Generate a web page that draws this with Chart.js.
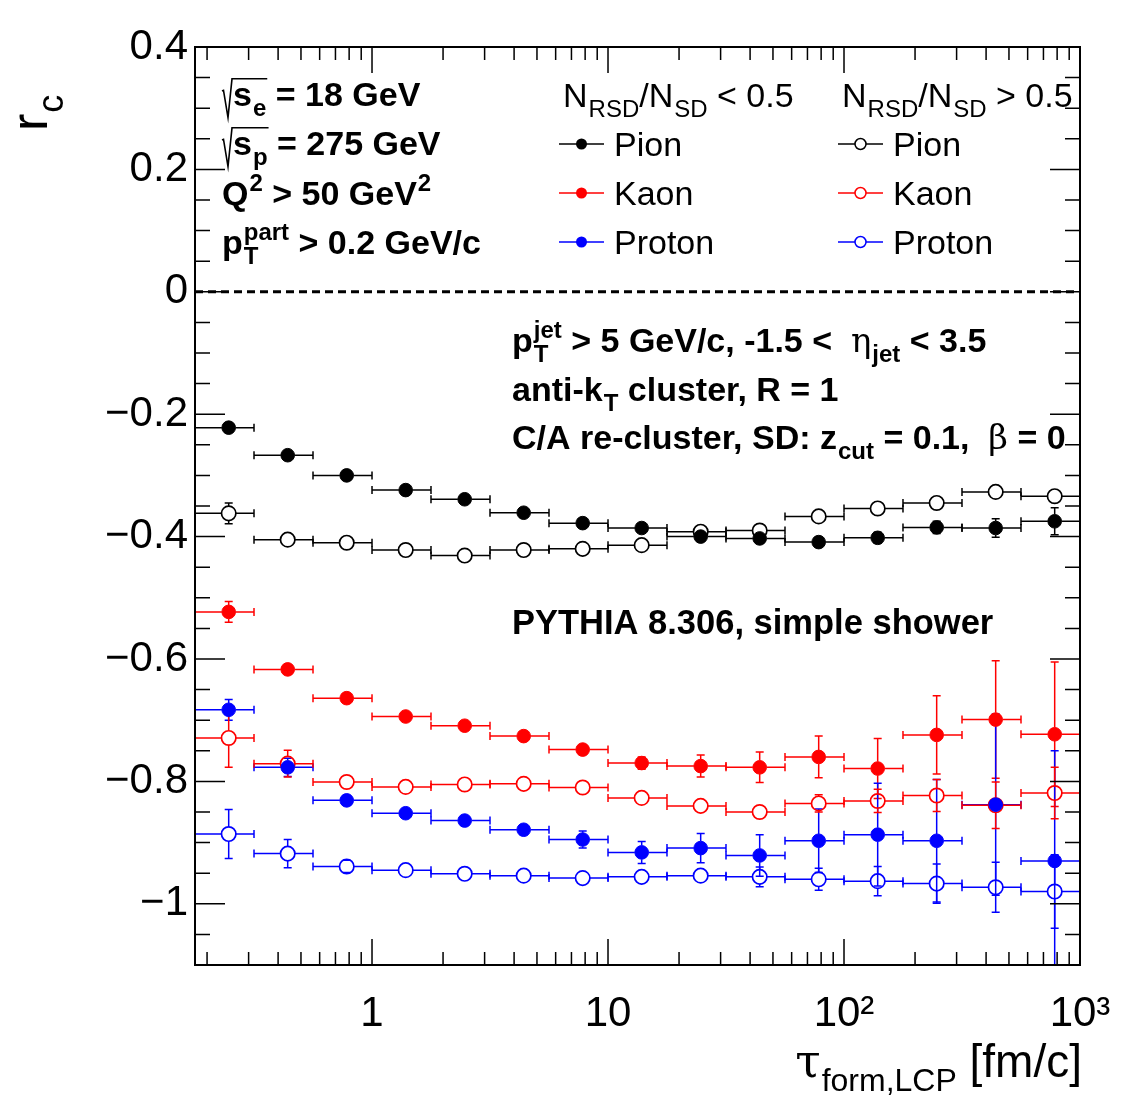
<!DOCTYPE html>
<html>
<head>
<meta charset="utf-8">
<script src="https://cdn.jsdelivr.net/npm/chart.js@4.4.1/dist/chart.umd.min.js"></script>
<style>
  html, body { margin: 0; padding: 0; background: #ffffff; }
  canvas { display: block; }
</style>
</head>
<body>
<canvas id="c" width="1127" height="1119"></canvas>
<script>
// Formation-time bins (fm/c), quarter-decade logarithmic binning
const binEdges = [0.1778, 0.3162, 0.5623, 1, 1.778, 3.162, 5.623, 10, 17.78, 31.62, 56.23, 100, 177.8, 316.2, 562.3, 1000];

// r_c for N_RSD/N_SD < 0.5 (filled markers)
const pionLow       = [-0.222, -0.267, -0.300, -0.324, -0.339, -0.361, -0.378, -0.386, -0.400, -0.403, -0.409, -0.402, -0.385, -0.386, -0.375];
const pionLowErr    = [0.004, 0.004, 0.004, 0.004, 0.004, 0.005, 0.005, 0.006, 0.006, 0.007, 0.008, 0.009, 0.010, 0.015, 0.022];
const kaonLow       = [-0.523, -0.617, -0.664, -0.694, -0.709, -0.726, -0.748, -0.770, -0.775, -0.777, -0.760, -0.779, -0.724, -0.699, -0.723];
const kaonLowErr    = [0.017, 0.007, 0.006, 0.006, 0.006, 0.007, 0.008, 0.010, 0.018, 0.025, 0.034, 0.049, 0.064, 0.096, 0.118];
const protonLow     = [-0.683, -0.777, -0.831, -0.852, -0.864, -0.879, -0.895, -0.916, -0.909, -0.921, -0.897, -0.887, -0.897, -0.838, -0.930];
const protonLowErr  = [0.017, 0.015, 0.008, 0.006, 0.006, 0.008, 0.014, 0.018, 0.024, 0.034, 0.052, 0.084, 0.100, 0.148, 0.180];

// r_c for N_RSD/N_SD > 0.5 (open markers)
const pionHigh      = [-0.362, -0.405, -0.410, -0.422, -0.431, -0.422, -0.420, -0.414, -0.392, -0.390, -0.367, -0.354, -0.345, -0.327, -0.334];
const pionHighErr   = [0.017, 0.005, 0.004, 0.004, 0.004, 0.004, 0.004, 0.004, 0.004, 0.004, 0.005, 0.005, 0.005, 0.006, 0.007];
const kaonHigh      = [-0.729, -0.771, -0.801, -0.809, -0.805, -0.804, -0.810, -0.827, -0.840, -0.850, -0.836, -0.832, -0.823, -0.839, -0.819];
const kaonHighErr   = [0.048, 0.022, 0.008, 0.005, 0.005, 0.005, 0.005, 0.005, 0.006, 0.008, 0.014, 0.019, 0.026, 0.038, 0.042];
const protonHigh    = [-0.886, -0.918, -0.939, -0.945, -0.951, -0.954, -0.958, -0.956, -0.954, -0.956, -0.960, -0.963, -0.967, -0.973, -0.980];
const protonHighErr = [0.040, 0.023, 0.010, 0.006, 0.005, 0.005, 0.005, 0.005, 0.007, 0.016, 0.018, 0.024, 0.032, 0.041, 0.060];

// Axis ticks
const xTickValues = [1, 10, 100, 1000];
const xTickLabels = ['1', '10', '10²', '10³'];
const yTickValues = [-1, -0.8, -0.6, -0.4, -0.2, 0, 0.2, 0.4];

const speciesNames = ['Pion', 'Kaon', 'Proton'];
const speciesColors = ['#000000', '#ff0000', '#0000ff'];

const FAMILY = "'Liberation Sans', Arial, Helvetica, sans-serif";
const SERIF = "'DejaVu Serif', 'Liberation Serif', serif";

const centers = binEdges.slice(0, -1).map((lo, i) => (lo + binEdges[i + 1]) / 2);

const series = [
  { label: 'Pion',   color: speciesColors[0], vals: pionLow,    errs: pionLowErr,    filled: true },
  { label: 'Kaon',   color: speciesColors[1], vals: kaonLow,    errs: kaonLowErr,    filled: true },
  { label: 'Proton', color: speciesColors[2], vals: protonLow,  errs: protonLowErr,  filled: true },
  { label: 'Pion',   color: speciesColors[0], vals: pionHigh,   errs: pionHighErr,   filled: false },
  { label: 'Kaon',   color: speciesColors[1], vals: kaonHigh,   errs: kaonHighErr,   filled: false },
  { label: 'Proton', color: speciesColors[2], vals: protonHigh, errs: protonHighErr, filled: false }
];

const R_FILLED = 6.8, R_OPEN = 7.2;

const datasets = series.map(s => ({
  label: s.label,
  data: centers.map((x, i) => ({ x: x, y: s.vals[i] })),
  errs: s.errs,
  filled: s.filled,
  color: s.color,
  showLine: false,
  pointStyle: 'circle',
  pointRadius: s.filled ? R_FILLED : R_OPEN,
  pointBackgroundColor: s.filled ? s.color : 'rgba(0,0,0,0)',
  pointBorderColor: s.color,
  pointBorderWidth: s.filled ? 1 : 1.7
}));

// ---- text helpers (sub/superscripts, radical) ----
function richText(ctx, x, y, parts, size, weight) {
  let cx = x;
  const ss = Math.round(size * 0.7);
  for (const p of parts) {
    const q = typeof p === 'string' ? { t: p } : p;
    if (q.dx) cx += q.dx;
    if (q.t !== undefined) {
      ctx.font = `${q.w || weight} ${size}px ${q.fam || FAMILY}`;
      ctx.fillText(q.t, cx, y);
      cx += ctx.measureText(q.t).width;
    }
    let w = 0;
    if (q.sub) {
      ctx.font = `${weight} ${ss}px ${FAMILY}`;
      ctx.fillText(q.sub, cx + 1, y + size * 0.3);
      w = Math.max(w, ctx.measureText(q.sub).width + 1);
    }
    if (q.sup) {
      ctx.font = `${weight} ${ss}px ${FAMILY}`;
      ctx.fillText(q.sup, cx + 1, y - size * 0.42);
      w = Math.max(w, ctx.measureText(q.sup).width + 1);
    }
    cx += w;
  }
  return cx;
}

function measureRich(ctx, parts, size, weight) {
  ctx.save();
  ctx.globalAlpha = 0;
  const end = richText(ctx, 0, -1000, parts, size, weight);
  ctx.restore();
  return end;
}

function sqrtText(ctx, x, y, parts, size, weight) {
  const top = y - size * 0.8;
  const endX = richText(ctx, x + 11, y, parts, size, weight);
  ctx.save();
  ctx.lineWidth = 1.6;
  ctx.strokeStyle = '#000';
  ctx.beginPath();
  ctx.moveTo(x, y - size * 0.44);
  ctx.lineTo(x + 1.5, y - size * 0.46);
  ctx.lineTo(x + 6, y + size * 0.34);
  ctx.lineTo(x + 10, top);
  ctx.lineTo(endX + 1, top);
  ctx.stroke();
  ctx.restore();
  return endX;
}

// ---- frame, ticks, error bars, annotations ----
const rootStyle = {
  id: 'rootStyle',
  beforeDatasetsDraw(chart) {
    const { ctx, chartArea: a, scales: { x, y } } = chart;
    ctx.save();
    ctx.beginPath();
    ctx.rect(a.left, a.top, a.right - a.left, a.bottom - a.top);
    ctx.clip();

    // r_c = 0 reference line
    const y0 = y.getPixelForValue(0);
    ctx.setLineDash([8, 5]);
    ctx.lineWidth = 3;
    ctx.strokeStyle = '#000';
    ctx.beginPath();
    ctx.moveTo(a.left, y0);
    ctx.lineTo(a.right, y0);
    ctx.stroke();
    ctx.setLineDash([]);

    // error bars: bin width horizontally, statistical error vertically
    chart.data.datasets.forEach(ds => {
      const r = ds.filled ? R_FILLED : R_OPEN;
      ctx.strokeStyle = ds.color;
      ctx.lineWidth = 1.5;
      ds.data.forEach((pt, i) => {
        const px = x.getPixelForValue(pt.x);
        const py = y.getPixelForValue(pt.y);
        const xl = x.getPixelForValue(binEdges[i]);
        const xr = x.getPixelForValue(binEdges[i + 1]);
        const yt = y.getPixelForValue(pt.y + ds.errs[i]);
        const yb = y.getPixelForValue(pt.y - ds.errs[i]);
        ctx.beginPath();
        ctx.moveTo(xl, py); ctx.lineTo(px - r, py);
        ctx.moveTo(px + r, py); ctx.lineTo(xr, py);
        ctx.moveTo(xl, py - 4); ctx.lineTo(xl, py + 4);
        ctx.moveTo(xr, py - 4); ctx.lineTo(xr, py + 4);
        if (py - yt > r) {
          ctx.moveTo(px, yt); ctx.lineTo(px, py - r);
          ctx.moveTo(px, py + r); ctx.lineTo(px, yb);
        }
        if (py - yt > r - 2) {
          ctx.moveTo(px - 4, yt); ctx.lineTo(px + 4, yt);
          ctx.moveTo(px - 4, yb); ctx.lineTo(px + 4, yb);
        }
        ctx.stroke();
      });
    });
    ctx.restore();
  },
  afterDraw(chart) {
    const { ctx, chartArea: a, scales: { x, y } } = chart;
    ctx.save();
    ctx.strokeStyle = '#000';

    // ticks on all four sides, pointing inwards
    ctx.lineWidth = 1.5;
    ctx.beginPath();
    for (let k = -22; k <= 8; k++) {
      const v = k * 0.05;
      const py = y.getPixelForValue(v);
      const len = (k % 4 === 0) ? 30 : 15;
      ctx.moveTo(a.left, py); ctx.lineTo(a.left + len, py);
      ctx.moveTo(a.right, py); ctx.lineTo(a.right - len, py);
    }
    for (let d = -1; d <= 3; d++) {
      for (let m = 1; m <= 9; m++) {
        const v = m * Math.pow(10, d);
        if (v < x.min * 0.999 || v > x.max * 1.001) continue;
        const px = x.getPixelForValue(v);
        const len = (m === 1) ? 26 : 13;
        ctx.moveTo(px, a.bottom); ctx.lineTo(px, a.bottom - len);
        ctx.moveTo(px, a.top); ctx.lineTo(px, a.top + len);
      }
    }
    ctx.stroke();

    // frame
    ctx.lineWidth = 2;
    ctx.strokeRect(a.left, a.top, a.right - a.left, a.bottom - a.top);

    ctx.fillStyle = '#000';
    ctx.textBaseline = 'alphabetic';
    ctx.textAlign = 'left';

    // beam and kinematic selection
    const B = 34;
    let e = sqrtText(ctx, 222, 106, [{ t: 's', sub: 'e' }], B, 'bold');
    richText(ctx, e, 106, [' = 18 GeV'], B, 'bold');
    e = sqrtText(ctx, 222, 155, [{ t: 's', sub: 'p' }], B, 'bold');
    richText(ctx, e, 155, [' = 275 GeV'], B, 'bold');
    richText(ctx, 222, 205, [{ t: 'Q', sup: '2' }, ' > 50 GeV', { sup: '2' }], B, 'bold');
    richText(ctx, 222, 254, [{ t: 'p', sub: 'T', sup: 'part' }, ' > 0.2 GeV/c'], B, 'bold');

    // jet definition
    richText(ctx, 512, 352, [{ t: 'p', sub: 'T', sup: 'jet' }, ' > 5 GeV/c, -1.5 <  ', { t: 'η', fam: SERIF, w: 'normal', sub: 'jet' }, ' < 3.5'], B, 'bold');
    richText(ctx, 512, 401, ['anti-k', { sub: 'T' }, ' cluster, R = 1'], B, 'bold');
    richText(ctx, 512, 449, ['C/A re-cluster, SD: z', { sub: 'cut' }, ' = 0.1,  ', { t: 'β', fam: SERIF, w: 'normal' }, ' = 0'], B, 'bold');
    richText(ctx, 512, 634, ['PYTHIA 8.306, simple shower'], 34.5, 'bold');

    // legend: two columns of species
    const L = 34;
    const cols = [
      { x: 559, head: ['N', { sub: 'RSD' }, '/N', { sub: 'SD' }, ' < 0.5'], filled: true },
      { x: 838, head: ['N', { sub: 'RSD' }, '/N', { sub: 'SD' }, ' > 0.5'], filled: false }
    ];
    const rowY = [144, 193, 242];
    cols.forEach(c => {
      richText(ctx, c.x + 4, 107, c.head, L, 'normal');
      speciesNames.forEach((name, i) => {
        const ly = rowY[i];
        const col = speciesColors[i];
        ctx.strokeStyle = col;
        ctx.lineWidth = 1.5;
        ctx.beginPath();
        ctx.moveTo(c.x, ly); ctx.lineTo(c.x + 45, ly);
        ctx.stroke();
        ctx.beginPath();
        ctx.arc(c.x + 22.5, ly, 5.5, 0, Math.PI * 2);
        if (c.filled) {
          ctx.fillStyle = col; ctx.fill();
        } else {
          ctx.fillStyle = '#fff'; ctx.fill();
          ctx.lineWidth = 1.5; ctx.stroke();
        }
        ctx.fillStyle = '#000';
        richText(ctx, c.x + 55, ly + 12, [name], L, 'normal');
      });
    });

    // axis titles
    const T = 46;
    const xTitle = [{ t: 'τ', fam: SERIF, sub: 'form,LCP' }, ' [fm/c]'];
    const wx = measureRich(ctx, xTitle, T, 'normal');
    ctx.fillStyle = '#000';
    richText(ctx, 1082 - wx, 1077, xTitle, T, 'normal');

    ctx.save();
    ctx.translate(47, 131);
    ctx.rotate(-Math.PI / 2);
    richText(ctx, 0, 0, [{ t: 'r', sub: 'c' }], 52, 'normal');
    ctx.restore();

    ctx.restore();
  }
};

const formatY = v => (v < 0 ? '\u2212' : '') + String(Math.abs(v));

new Chart(document.getElementById('c'), {
  type: 'scatter',
  data: { datasets: datasets },
  options: {
    responsive: false,
    animation: false,
    devicePixelRatio: 1,
    layout: { padding: { top: 47, right: 47, left: 0, bottom: 0 } },
    plugins: { legend: { display: false }, tooltip: { enabled: false } },
    scales: {
      x: {
        type: 'logarithmic',
        min: binEdges[0],
        max: binEdges[binEdges.length - 1],
        grid: { display: false, drawTicks: false },
        border: { display: false },
        afterBuildTicks: s => { s.ticks = xTickValues.map(v => ({ value: v })); },
        afterFit: s => { s.height = 154; s.paddingLeft = 0; s.paddingRight = 0; },
        ticks: {
          autoSkip: false,
          maxRotation: 0,
          padding: 24,
          color: '#000',
          font: { family: FAMILY, size: 42 },
          callback: (v, i) => xTickLabels[i]
        }
      },
      y: {
        type: 'linear',
        min: -1.1,
        max: 0.4,
        grid: { display: false, drawTicks: false },
        border: { display: false },
        afterBuildTicks: s => { s.ticks = yTickValues.map(v => ({ value: v })); },
        afterFit: s => { s.width = 195; s.paddingTop = 0; s.paddingBottom = 0; },
        ticks: {
          padding: 7,
          color: '#000',
          font: { family: FAMILY, size: 42 },
          callback: v => formatY(v)
        }
      }
    }
  },
  plugins: [rootStyle]
});
</script>
</body>
</html>
